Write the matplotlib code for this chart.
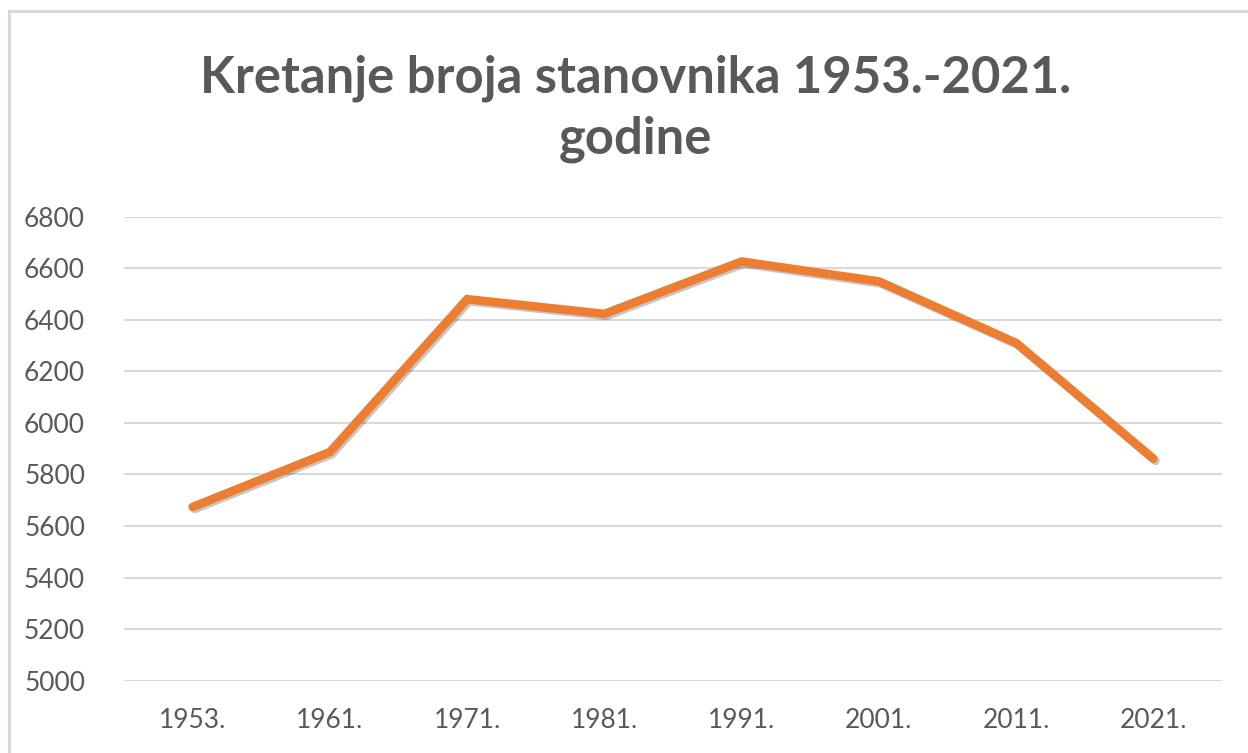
import matplotlib
matplotlib.use("Agg")
import matplotlib.pyplot as plt
import matplotlib.patheffects as pe
from matplotlib.patches import Rectangle

# data
godine = ["1953.", "1961.", "1971.", "1981.", "1991.", "2001.", "2011.", "2021."]
stanovnici = [5674, 5887, 6480, 6423, 6626, 6549, 6310, 5861]
y_ticks = [5000, 5200, 5400, 5600, 5800, 6000, 6200, 6400, 6600, 6800]

TEXT = "#595959"
GRID = "#d9d9d9"
ORANGE = "#ED7D31"

plt.rcParams["font.family"] = ["Lato", "DejaVu Sans"]

dpi = 100
fig = plt.figure(figsize=(1248 / dpi, 753 / dpi), dpi=dpi)
fig.patch.set_facecolor("white")

# light border around the chart area (right/bottom edges fall outside the crop)
fig.patches.append(Rectangle((8.5 / 1248, -0.1), 1.2, 1 - 11.5 / 753 + 0.1,
                             transform=fig.transFigure, fill=False,
                             edgecolor=GRID, linewidth=2.2))

ax = fig.add_axes([124 / 1248, 1 - 680.7 / 753, (1222 - 124) / 1248, (680.7 - 216.7) / 753])

x = list(range(len(godine)))
ax.plot(x, stanovnici, color=ORANGE, linewidth=6.2, solid_capstyle="round",
        solid_joinstyle="miter",
        path_effects=[pe.SimpleLineShadow(offset=(1.5, -1.5), shadow_color="black", alpha=0.22),
                      pe.Normal()], zorder=3)

ax.set_xlim(-0.5, len(godine) - 0.5)
ax.set_ylim(5000, 6800)
ax.set_yticks(y_ticks)
ax.set_xticks(x)
ax.set_xticklabels(godine)

ax.grid(axis="y", color=GRID, linewidth=1.5)
ax.set_axisbelow(True)
for s in ax.spines.values():
    s.set_visible(False)
ax.tick_params(axis="both", length=0, labelsize=19, labelcolor=TEXT)
ax.tick_params(axis="y", pad=28)
ax.tick_params(axis="x", pad=20)

fig.text(0.509, 1 - 78 / 753, "Kretanje broja stanovnika 1953.-2021.", ha="center",
         va="center", fontsize=36.5, fontweight="bold", color=TEXT)
fig.text(0.509, 1 - 139 / 753, "godine", ha="center", va="center",
         fontsize=36.5, fontweight="bold", color=TEXT)

fig.savefig("out.png", dpi=dpi)
